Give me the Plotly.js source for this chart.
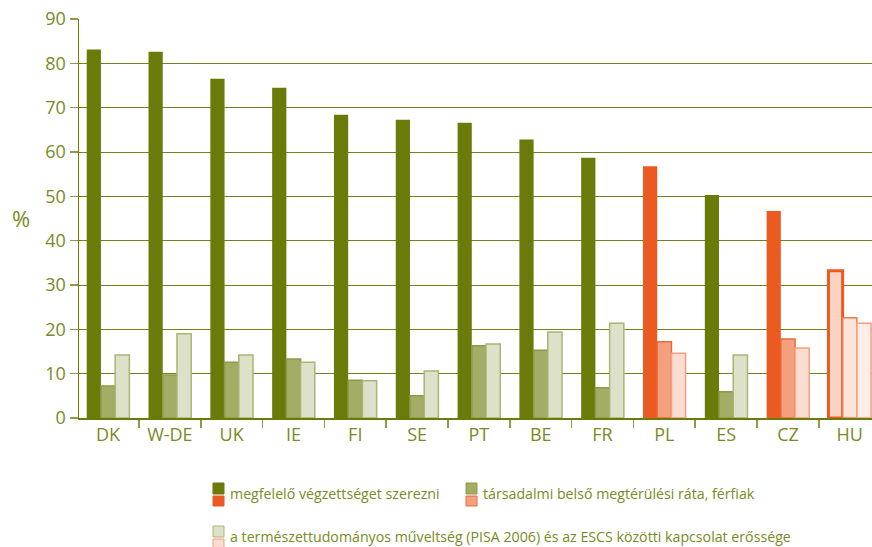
<!DOCTYPE html>
<html><head><meta charset="utf-8">
<script src="https://cdn.plot.ly/plotly-3.0.1.min.js"></script>
<style>html,body{margin:0;padding:0;background:#fff}#chart{width:872px;height:547px}</style>
</head><body><div id="chart"></div>
<script>
var categories = ['DK','W-DE','UK','IE','FI','SE','PT','BE','FR','PL','ES','CZ','HU'];
var graduates = [83.1, 82.6, 76.5, 74.5, 68.4, 67.3, 66.6, 62.8, 58.7, 56.8, 50.3, 46.7, 33.2];
var returnRate = [7.2, 9.7, 12.6, 13.3, 8.5, 5.0, 16.3, 15.3, 6.8, 17.2, 5.9, 17.8, 22.6];
var pisaEscs = [14.2, 19.0, 14.2, 12.6, 8.4, 10.6, 16.7, 19.4, 21.4, 14.6, 14.2, 15.8, 21.4];
var highlighted = ['PL','CZ'];
var special = ['HU'];
var legendLabels = ['megfelelő végzettséget szerezni','társadalmi belső megtérülési ráta, férfiak','a természettudományos műveltség (PISA 2006) és az ESCS közötti kapcsolat erőssége'];

var olive = ['#6a7b0a','#a4ad66','#dee1ca'];
var oliveLine = ['#6a7b0a','#8e9a48','#aab473'];
var orange = ['#ec5a22','#f4a07e','#fadcd0'];
var orangeLine = ['#ec5a22','#ec6a3a','#f4a07e'];
var specialFill = ['#fbd3c2','#fde4da','#fdeee8'];
var specialLine = ['#ec5a22','#f07a50','#f4a07e'];
var txt = '#7a8a26';

function mk(values, idx, name){
  var colors = categories.map(function(c){
    if (special.indexOf(c)>=0) return specialFill[idx];
    return highlighted.indexOf(c)>=0 ? orange[idx] : olive[idx];
  });
  var lines = categories.map(function(c){
    if (special.indexOf(c)>=0) return specialLine[idx];
    return highlighted.indexOf(c)>=0 ? orangeLine[idx] : oliveLine[idx];
  });
  var widths = categories.map(function(c){
    if (special.indexOf(c)>=0) return idx===0 ? 3 : 1.5;
    return idx===0 ? 0 : 1.5;
  });
  return {
    type:'bar', x:categories, y:values, name:name, showlegend:false,
    marker:{color:colors, line:{color:lines, width:widths}},
    hoverinfo:'skip'
  };
}
var data = [mk(graduates,0,legendLabels[0]), mk(returnRate,1,legendLabels[1]), mk(pisaEscs,2,legendLabels[2])];

var shapes = [];
var annotations = [];
function pxX(p){return (p-79)/(872-79);}
function pyY(p){return (418-p)/(418-19);}
var legItems = [{x:213,y:493},{x:466,y:493},{x:213,y:536}];
for (var i=0;i<3;i++){
  var L = legItems[i];
  var x0 = pxX(L.x), x1 = pxX(L.x+11);
  shapes.push({type:'rect', xref:'paper', yref:'paper', x0:x0, x1:x1, y0:pyY(L.y+1), y1:pyY(L.y-10), fillcolor:olive[i], line:{color:oliveLine[i], width:1}});
  shapes.push({type:'rect', xref:'paper', yref:'paper', x0:x0, x1:x1, y0:pyY(L.y+13), y1:pyY(L.y+3), fillcolor:orange[i], line:{color:orangeLine[i], width:1}});
  annotations.push({xref:'paper', yref:'paper', x:pxX(L.x+15), y:pyY(L.y), xanchor:'left', yanchor:'middle', showarrow:false,
    text:legendLabels[i], font:{family:'Open Sans, sans-serif', size:14.2, color:txt}});
}
annotations.push({xref:'paper', yref:'paper', x:pxX(21), y:pyY(218), xanchor:'center', yanchor:'middle', showarrow:false,
  text:'%', font:{family:'Open Sans, sans-serif', size:22, color:txt}});

var layout = {
  width:872, height:547,
  margin:{l:79, r:0, t:19, b:129},
  paper_bgcolor:'#ffffff', plot_bgcolor:'#ffffff',
  barmode:'group', bargap:0.31, bargroupgap:0,
  showlegend:false,
  font:{family:'Open Sans, sans-serif', color:txt},
  xaxis:{range:[-0.47,12.36], showline:true, linecolor:'#6a7b0a', linewidth:1.5,
    ticks:'outside', tickson:'boundaries', ticklen:8, tickcolor:'#8e9a48', tickwidth:1.5,
    tickfont:{size:18, color:txt}, showgrid:false, fixedrange:true},
  yaxis:{range:[0,90], dtick:10, showline:true, linecolor:'#6a7b0a', linewidth:1.5,
    ticks:'outside', ticklen:8, tickcolor:'#8e9a48', tickwidth:1.5,
    tickfont:{size:18, color:txt}, showgrid:true, gridcolor:'#72821a', gridwidth:1,
    zeroline:false, fixedrange:true},
  shapes:shapes, annotations:annotations
};
Plotly.newPlot('chart', data, layout, {displayModeBar:false, staticPlot:true});
</script></body></html>
